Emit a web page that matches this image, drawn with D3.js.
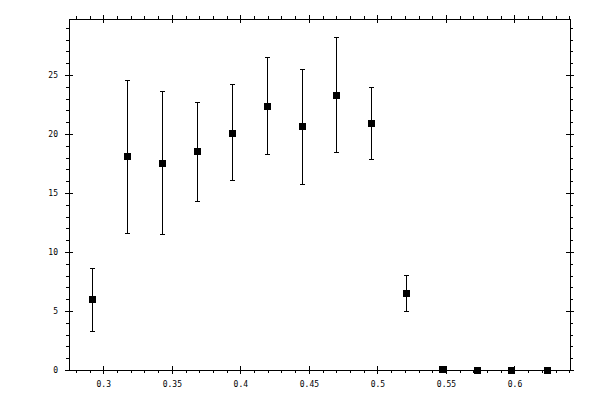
<!DOCTYPE html>
<html lang="en">
<head>
<meta charset="UTF-8">
<title>Error bars</title>
<style>
  * { margin: 0; padding: 0; }
  body { background: white; }
  svg text { font-family: "DejaVu Sans Mono", monospace; font-size: 8px; fill: black; }
</style>
</head>
<body>
<div id="chart"></div>
<script src="https://cdn.jsdelivr.net/npm/d3@7"></script>
<script>
// data
const xs    = [0.2920, 0.3175, 0.3431, 0.3686, 0.3942, 0.4197, 0.4453, 0.4701, 0.4956, 0.5212, 0.5470, 0.5726, 0.5978, 0.6234]
const ys    = [6.03, 18.15, 17.56, 18.58, 20.10, 22.39, 20.69, 23.32, 20.95, 6.54, 0.08, 0, 0, 0]
const yLow  = [3.32, 11.63, 11.54, 14.34, 16.10, 18.32, 15.78, 18.49, 17.90, 5.02, null, null, null, null]
const yHigh = [8.66, 24.60, 23.66, 22.75, 24.20, 26.54, 25.52, 28.24, 24.00, 8.07, null, null, null, null]
const xTicks = [0.3, 0.35, 0.4, 0.45, 0.5, 0.55, 0.6]
const yTicks = [0, 5, 10, 15, 20, 25]

const W = 600, H = 400
const m = {left: 69, right: 30, top: 19, bottom: 30}

const svg = d3.select('#chart').append('svg')
  .attr('width', W)
  .attr('height', H)
  .style('background-color', 'white')

const x = d3.scaleLinear().domain([0.275, 0.6405]).range([m.left, W - m.right])
const y = d3.scaleLinear().domain([0, 29.75]).range([H - m.bottom, m.top])

const xMinor = d3.range(0.28, 0.641, 0.01).map(d => +d.toFixed(2))
const yMinor = d3.range(0, 30, 1)

// frame
svg.append('rect')
  .attr('x', x.range()[0]).attr('y', y.range()[1])
  .attr('width', x.range()[1] - x.range()[0])
  .attr('height', y.range()[0] - y.range()[1])
  .attr('fill', 'none').attr('stroke', 'black')
  .attr('shape-rendering', 'crispEdges')

// helper: minor ticks outward, major ticks crossing the line
function addAxis(axisFn, scale, pos, major, minor, labels, horiz) {
  const g = svg.append('g').attr('transform', horiz ? `translate(0,${pos})` : `translate(${pos},0)`)
  g.call(axisFn(scale).tickValues(minor).tickSize(3).tickFormat(''))
  const g2 = svg.append('g').attr('transform', horiz ? `translate(0,${pos})` : `translate(${pos},0)`)
  g2.call(axisFn(scale).tickValues(major).tickSize(4).tickPadding(labels ? 7 : 0)
    .tickFormat(labels ? d3.format('') : ''))
  const k = horiz ? 'y1' : 'x1'
  const out = (axisFn === d3.axisBottom || axisFn === d3.axisRight) ? -4 : 4
  g2.selectAll('.tick line').attr(k, out)
  for (const gg of [g, g2]) {
    gg.select('.domain').remove()
    gg.selectAll('line').attr('stroke', 'black').attr('shape-rendering', 'crispEdges')
  }
  g2.selectAll('text').attr('font-family', null).attr('font-size', null).attr('fill', 'black')
  return g2
}

addAxis(d3.axisBottom, x, y.range()[0], xTicks, xMinor, true, true)
addAxis(d3.axisTop, x, y.range()[1], xTicks, xMinor, false, true)
addAxis(d3.axisLeft, y, x.range()[0], yTicks, yMinor, true, false)
addAxis(d3.axisRight, y, x.range()[1], yTicks, yMinor, false, false)

// error bars
const idx = d3.range(xs.length).filter(i => yLow[i] !== null)
const cx = i => Math.round(x(xs[i])) + 0.5
const bars = svg.append('g').attr('stroke', 'black').attr('shape-rendering', 'crispEdges')
bars.selectAll('.stem').data(idx).join('line')
  .attr('x1', cx).attr('x2', cx)
  .attr('y1', i => y(yLow[i])).attr('y2', i => y(yHigh[i]))
bars.selectAll('.capHi').data(idx).join('line')
  .attr('x1', i => cx(i) - 2.5).attr('x2', i => cx(i) + 2.5)
  .attr('y1', i => Math.round(y(yHigh[i])) + 0.5).attr('y2', i => Math.round(y(yHigh[i])) + 0.5)
bars.selectAll('.capLo').data(idx).join('line')
  .attr('x1', i => cx(i) - 2.5).attr('x2', i => cx(i) + 2.5)
  .attr('y1', i => Math.round(y(yLow[i])) + 0.5).attr('y2', i => Math.round(y(yLow[i])) + 0.5)

// square markers
svg.append('g').selectAll('rect').data(d3.range(xs.length)).join('rect')
  .attr('x', i => Math.round(x(xs[i])) - 3)
  .attr('y', i => Math.round(y(ys[i])) - 3)
  .attr('width', 7).attr('height', 7)
  .attr('fill', 'black')
  .attr('shape-rendering', 'crispEdges')
</script>
</body>
</html>
